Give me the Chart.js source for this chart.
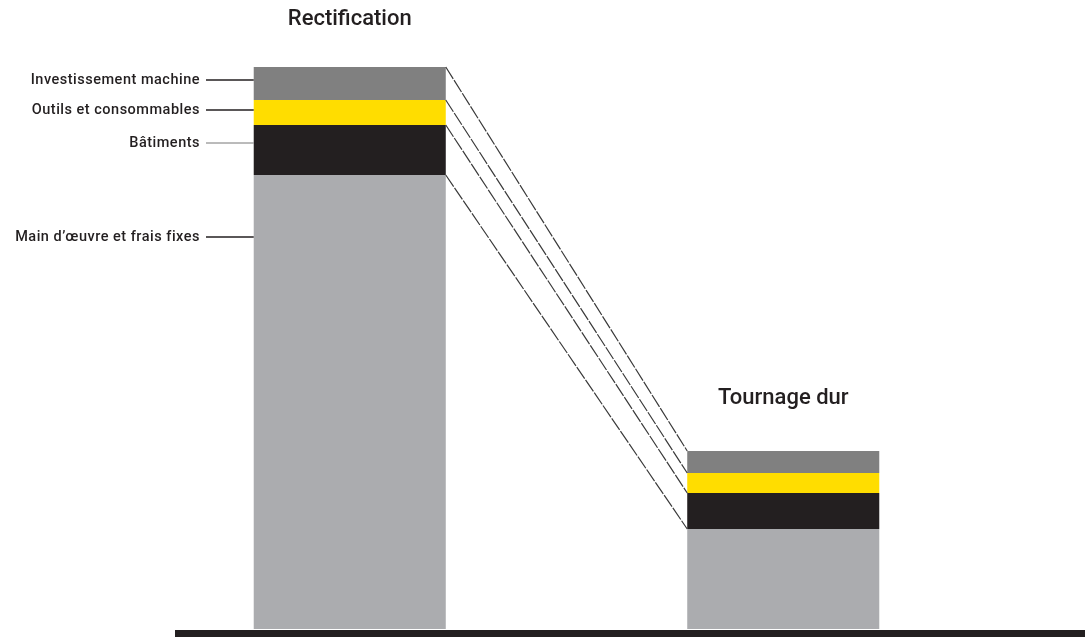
<!DOCTYPE html>
<html>
<head>
<meta charset="utf-8">
<script src="https://cdn.jsdelivr.net/npm/chart.js@4.4.0/dist/chart.umd.min.js"></script>
<style>
  html, body { margin: 0; padding: 0; background: #fff; }
  #wrap { width: 1085px; height: 637px; }
</style>
</head>
<body>
<div id="wrap"><canvas id="costChart"></canvas></div>
<script>
// cost breakdown, relative units
const categories = ['Rectification', 'Tournage dur'];
const seriesNames = ['Main d\u2019œuvre et frais fixes', 'Bâtiments', 'Outils et consommables', 'Investissement machine'];
const mainOeuvre = [454, 100];
const batiments = [50, 36];
const outils = [25, 20];
const investissement = [33, 22];

const colors = ['#abacaf', '#231f20', '#ffdd00', '#808080'];
const values = [mainOeuvre, batiments, outils, investissement];

// side labels: y value where each label sits next to the first bar
const labelAt = [392, 486, 519, 549];

const decorPlugin = {
  id: 'decor',
  afterDraw(chart) {
    const ctx = chart.ctx;
    const y = chart.scales.y;
    const base = y.getPixelForValue(0);

    // thick baseline
    ctx.save();
    ctx.fillStyle = '#231f20';
    ctx.fillRect(175, base + 1, chart.width - 175, 8);

    // connector lines between the segment tops of both bars
    ctx.strokeStyle = '#3a3a3a';
    ctx.lineWidth = 1.2;
    ctx.setLineDash([14, 1.5]);
    for (let d = 0; d < values.length; d++) {
      const bars = chart.getDatasetMeta(d).data;
      const a = bars[0], b = bars[1];
      ctx.beginPath();
      ctx.moveTo(a.x + a.width / 2, a.y);
      ctx.lineTo(b.x - b.width / 2, b.y);
      ctx.stroke();
    }
    ctx.setLineDash([]);

    // titles above bars
    const top = chart.getDatasetMeta(values.length - 1).data;
    ctx.fillStyle = '#231f20';
    ctx.font = '500 22px Roboto, "Liberation Sans", sans-serif';
    ctx.textAlign = 'center';
    ctx.textBaseline = 'middle';
    categories.forEach((c, i) => {
      ctx.fillText(c, top[i].x, top[i].y - 48 - i * 5);
    });

    // series labels with leader lines
    const first = chart.getDatasetMeta(0).data[0];
    const left = first.x - first.width / 2;
    ctx.font = '500 14.5px Roboto, "Liberation Sans", sans-serif';
    ctx.letterSpacing = '0.5px';
    ctx.textAlign = 'right';
    seriesNames.forEach((name, i) => {
      const ly = y.getPixelForValue(labelAt[i]);
      ctx.fillStyle = '#231f20';
      ctx.fillText(name, 200, ly);
      ctx.strokeStyle = i === 1 ? '#777' : '#231f20';
      ctx.lineWidth = i === 1 ? 1 : 1.5;
      ctx.beginPath();
      ctx.moveTo(206, ly);
      ctx.lineTo(left, ly);
      ctx.stroke();
    });
    ctx.restore();
  }
};

const ctx = document.getElementById('costChart').getContext('2d');
const costChart = new Chart(ctx, {
  type: 'bar',
  data: {
    labels: categories,
    datasets: seriesNames.map((name, i) => ({
      label: name,
      data: values[i],
      backgroundColor: colors[i],
      borderWidth: 0,
      categoryPercentage: 1,
      barPercentage: 0.443
    }))
  },
  options: {
    responsive: true,
    maintainAspectRatio: false,
    animation: false,
    layout: { padding: { left: 133, right: 85, top: 0, bottom: 8 } },
    plugins: {
      legend: { display: false },
      tooltip: { enabled: false }
    },
    scales: {
      x: { stacked: true, display: false },
      y: { stacked: true, display: false, min: 0, max: 629 }
    }
  },
  plugins: [decorPlugin]
});
</script>
</body>
</html>
